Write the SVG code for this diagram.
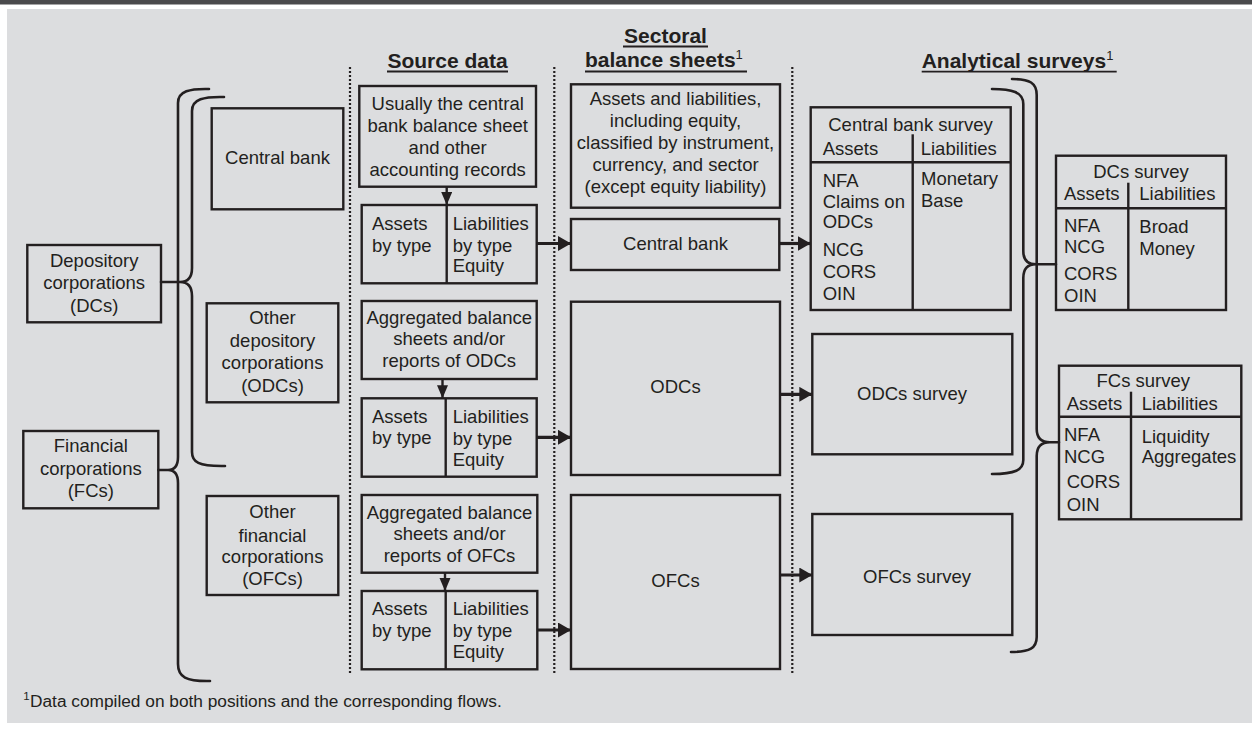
<svg xmlns="http://www.w3.org/2000/svg" width="1252" height="734" viewBox="0 0 1252 734">
<defs>
<style>
.t{font-family:"Liberation Sans",Arial,Helvetica,sans-serif;font-size:18.5px;fill:#231f20}
.c{text-anchor:middle}
.h{font-family:"Liberation Sans",Arial,Helvetica,sans-serif;font-size:21px;font-weight:bold;fill:#231f20}
.sup{font-size:13px;font-weight:normal}
.box{fill:none;stroke:#231f20;stroke-width:2.4}
.ln{stroke:#231f20;stroke-width:2.4;fill:none}
.ul{stroke:#231f20;stroke-width:1.8}
.br{fill:none;stroke:#231f20;stroke-width:2.6;stroke-linecap:round}
.dot{stroke:#231f20;stroke-width:2.2;stroke-dasharray:2 2}
.arr{stroke:#231f20;stroke-width:3.2;fill:none}
.arrs{stroke:#231f20;stroke-width:2.4;fill:none}
</style>
<marker id="ah" markerUnits="userSpaceOnUse" markerWidth="14" markerHeight="16" refX="13" refY="7.5" orient="auto"><path d="M0,0 L13,7.5 L0,15 z" fill="#231f20"/></marker>
<marker id="ahs" markerUnits="userSpaceOnUse" markerWidth="14" markerHeight="12" refX="13" refY="5.5" orient="auto"><path d="M0,0 L13,5.5 L0,11 z" fill="#231f20"/></marker>
</defs>

<rect x="0" y="0" width="1252" height="734" fill="#ffffff"/>
<rect x="0" y="0" width="1252" height="4.5" fill="#4a4a4c"/>
<rect x="7" y="9" width="1245" height="714" fill="#dcdddf"/>

<!-- headers -->
<g id="headers">
<text class="h" x="447.5" y="68" text-anchor="middle">Source data</text>
<line class="ul" x1="387" y1="71.5" x2="508" y2="71.5"/>
<text class="h" x="665.5" y="42.7" text-anchor="middle">Sectoral</text>
<line class="ul" x1="623" y1="46.5" x2="708" y2="46.5"/>
<text class="h" x="585" y="66.7">balance sheets<tspan class="sup" dy="-8">1</tspan></text>
<line class="ul" x1="585" y1="71.5" x2="747" y2="71.5"/>
<text class="h" x="921.7" y="68.3">Analytical surveys<tspan class="sup" dy="-8">1</tspan></text>
<line class="ul" x1="921.7" y1="71.7" x2="1116.7" y2="71.7"/>
</g>

<!-- dotted separators -->
<g id="separators">
<line class="dot" x1="350" y1="67" x2="350" y2="673"/>
<line class="dot" x1="554.3" y1="67" x2="554.3" y2="673"/>
<line class="dot" x1="792.3" y1="67" x2="792.3" y2="673"/>
</g>

<!-- left hierarchy -->
<g id="dcs">
<rect class="box" x="27.3" y="245" width="133.7" height="77.3"/>
<text class="t c" x="94.2" y="266.7">Depository</text>
<text class="t c" x="94.2" y="289.3">corporations</text>
<text class="t c" x="94.2" y="311.7">(DCs)</text>
</g>
<g id="fcs">
<rect class="box" x="23.3" y="431" width="135" height="77.3"/>
<text class="t c" x="90.8" y="451.7">Financial</text>
<text class="t c" x="90.8" y="475">corporations</text>
<text class="t c" x="90.8" y="496.7">(FCs)</text>
</g>
<g id="centralbank">
<rect class="box" x="211.7" y="108.3" width="131.6" height="101"/>
<text class="t c" x="277.5" y="163.5">Central bank</text>
</g>
<g id="odcs">
<rect class="box" x="206.7" y="303.3" width="131.6" height="99"/>
<text class="t c" x="272.5" y="324">Other</text>
<text class="t c" x="272.5" y="346.7">depository</text>
<text class="t c" x="272.5" y="369.3">corporations</text>
<text class="t c" x="272.5" y="391.7">(ODCs)</text>
</g>
<g id="ofcs">
<rect class="box" x="206.7" y="496" width="131.6" height="99"/>
<text class="t c" x="272.5" y="518.3">Other</text>
<text class="t c" x="272.5" y="541.7">financial</text>
<text class="t c" x="272.5" y="563.3">corporations</text>
<text class="t c" x="272.5" y="585">(OFCs)</text>
</g>

<!-- source data -->
<g id="src-cb">
<rect class="box" x="359.3" y="86" width="176.7" height="100.7"/>
<text class="t c" x="447.7" y="110">Usually the central</text>
<text class="t c" x="447.7" y="131.7">bank balance sheet</text>
<text class="t c" x="447.7" y="154">and other</text>
<text class="t c" x="447.7" y="175.7">accounting records</text>
</g>
<g id="src-cb-al">
<rect class="box" x="361.7" y="205" width="175" height="78.3"/>
<line class="ln" x1="446.7" y1="205" x2="446.7" y2="283.3"/>
<text class="t" x="372" y="230">Assets</text>
<text class="t" x="372" y="251.5">by type</text>
<text class="t" x="452.7" y="230">Liabilities</text>
<text class="t" x="452.7" y="251.5">by type</text>
<text class="t" x="452.7" y="272">Equity</text>
</g>
<g id="src-odc">
<rect class="box" x="361.7" y="301" width="175" height="78"/>
<text class="t c" x="449.2" y="324">Aggregated balance</text>
<text class="t c" x="449.2" y="345">sheets and/or</text>
<text class="t c" x="449.2" y="366.7">reports of ODCs</text>
</g>
<g id="src-odc-al">
<rect class="box" x="361.7" y="398.3" width="175" height="78.4"/>
<line class="ln" x1="445.7" y1="398.3" x2="445.7" y2="476.7"/>
<text class="t" x="372" y="422.7">Assets</text>
<text class="t" x="372" y="444.3">by type</text>
<text class="t" x="452.7" y="422.7">Liabilities</text>
<text class="t" x="452.7" y="444.5">by type</text>
<text class="t" x="452.7" y="466">Equity</text>
</g>
<g id="src-ofc">
<rect class="box" x="361.7" y="495" width="175.6" height="77.7"/>
<text class="t c" x="449.5" y="519.3">Aggregated balance</text>
<text class="t c" x="449.5" y="540">sheets and/or</text>
<text class="t c" x="449.5" y="561.7">reports of OFCs</text>
</g>
<g id="src-ofc-al">
<rect class="box" x="361.7" y="591" width="175.6" height="78.3"/>
<line class="ln" x1="445.7" y1="591" x2="445.7" y2="669.3"/>
<text class="t" x="372" y="615">Assets</text>
<text class="t" x="372" y="637">by type</text>
<text class="t" x="452.7" y="615">Liabilities</text>
<text class="t" x="452.7" y="636.7">by type</text>
<text class="t" x="452.7" y="658.3">Equity</text>
</g>

<!-- sectoral balance sheets -->
<g id="sec-desc">
<rect class="box" x="571" y="84.3" width="209" height="123.4"/>
<text class="t c" x="675.5" y="105">Assets and liabilities,</text>
<text class="t c" x="675.5" y="126.7">including equity,</text>
<text class="t c" x="675.5" y="149">classified by instrument,</text>
<text class="t c" x="675.5" y="171">currency, and sector</text>
<text class="t c" x="675.5" y="193.3">(except equity liability)</text>
</g>
<g id="sec-cb">
<rect class="box" x="571" y="219" width="208.3" height="51"/>
<text class="t c" x="675.5" y="250">Central bank</text>
</g>
<g id="sec-odc">
<rect class="box" x="571" y="301.7" width="209" height="173.3"/>
<text class="t c" x="675.5" y="393.3">ODCs</text>
</g>
<g id="sec-ofc">
<rect class="box" x="571" y="495" width="209" height="174"/>
<text class="t c" x="675.5" y="587.3">OFCs</text>
</g>

<!-- analytical surveys -->
<g id="cb-survey">
<rect class="box" x="810.7" y="107.3" width="200" height="202.7"/>
<line class="ln" x1="810.7" y1="162.3" x2="1010.7" y2="162.3"/>
<line class="ln" x1="912.7" y1="134.3" x2="912.7" y2="310"/>
<text class="t c" x="910.5" y="131">Central bank survey</text>
<text class="t" x="822.7" y="155">Assets</text>
<text class="t" x="920.7" y="155">Liabilities</text>
<text class="t" x="822.7" y="186.7">NFA</text>
<text class="t" x="822.7" y="208.3">Claims on</text>
<text class="t" x="822.7" y="228.3">ODCs</text>
<text class="t" x="822.7" y="256">NCG</text>
<text class="t" x="822.7" y="278.3">CORS</text>
<text class="t" x="822.7" y="300">OIN</text>
<text class="t" x="921" y="185">Monetary</text>
<text class="t" x="921" y="206.7">Base</text>
</g>
<g id="dcs-survey">
<rect class="box" x="1056" y="155.7" width="170" height="154.3"/>
<line class="ln" x1="1056" y1="208.3" x2="1226" y2="208.3"/>
<line class="ln" x1="1128.3" y1="182.7" x2="1128.3" y2="310"/>
<text class="t c" x="1141" y="178.3">DCs survey</text>
<text class="t" x="1064" y="200">Assets</text>
<text class="t" x="1139.3" y="200">Liabilities</text>
<text class="t" x="1064" y="231.7">NFA</text>
<text class="t" x="1064" y="253">NCG</text>
<text class="t" x="1064" y="280">CORS</text>
<text class="t" x="1064" y="301.5">OIN</text>
<text class="t" x="1139.3" y="233.3">Broad</text>
<text class="t" x="1139.3" y="255">Money</text>
</g>
<g id="odcs-survey">
<rect class="box" x="812.3" y="334" width="200" height="120.3"/>
<text class="t c" x="912" y="400">ODCs survey</text>
</g>
<g id="fcs-survey">
<rect class="box" x="1059" y="365.7" width="182.3" height="153.6"/>
<line class="ln" x1="1059" y1="416.7" x2="1241.3" y2="416.7"/>
<line class="ln" x1="1131" y1="391.7" x2="1131" y2="519.3"/>
<text class="t c" x="1143.3" y="386.7">FCs survey</text>
<text class="t" x="1066.7" y="410">Assets</text>
<text class="t" x="1141.7" y="410">Liabilities</text>
<text class="t" x="1064" y="441.3">NFA</text>
<text class="t" x="1064" y="462.7">NCG</text>
<text class="t" x="1066.7" y="488.3">CORS</text>
<text class="t" x="1066.7" y="510.7">OIN</text>
<text class="t" x="1141.7" y="442.7">Liquidity</text>
<text class="t" x="1141.7" y="463.3">Aggregates</text>
</g>
<g id="ofcs-survey">
<rect class="box" x="812.3" y="514" width="200" height="121"/>
<text class="t c" x="917" y="582.7">OFCs survey</text>
</g>

<!-- connectors -->
<g id="connectors">
<!-- braces -->
<path class="br" d="M209,89 C190,88.5 178,91 178,103 L178,457 Q178,470 168,470 L158.3,470 M168,470 Q178,470 178,483 L178,664 C178,677 186,681.5 210,681"/>
<path class="br" d="M224,97 C204,96.5 192,99 192,111 L192,268 Q192,282 180,282 L161,282 M180,282 Q192,282 192,296 L192,452 C192,462 198,466.5 225,466"/>
<path class="br" d="M992,89 C1012,89 1023.3,92 1023.3,104 L1023.3,251 Q1023.3,264.3 1036,264.3 L1056,264.3 M1036,264.3 Q1023.3,264.3 1023.3,278 L1023.3,460 C1023.3,470 1015,474 992,474"/>
<path class="br" d="M1012,79 C1030,79 1036.7,83 1036.7,95 L1036.7,429 Q1036.7,442.3 1050,442.3 L1059,442.3 M1050,442.3 Q1036.7,442.3 1036.7,456 L1036.7,637 C1036.7,648 1030,652 1011,652"/>
<!-- down arrows -->
<line class="arrs" x1="446.7" y1="186.7" x2="446.7" y2="205" marker-end="url(#ahs)"/>
<line class="arrs" x1="442.5" y1="379" x2="442.5" y2="398.3" marker-end="url(#ahs)"/>
<line class="arrs" x1="445" y1="572.7" x2="445" y2="591" marker-end="url(#ahs)"/>
<!-- right arrows -->
<line class="arr" x1="536.7" y1="243.5" x2="571" y2="243.5" marker-end="url(#ah)"/>
<line class="arr" x1="779.3" y1="243.5" x2="810.7" y2="243.5" marker-end="url(#ah)"/>
<line class="arr" x1="536.7" y1="437.3" x2="571" y2="437.3" marker-end="url(#ah)"/>
<line class="arr" x1="780" y1="394.3" x2="812.3" y2="394.3" marker-end="url(#ah)"/>
<line class="arr" x1="537.3" y1="630" x2="571" y2="630" marker-end="url(#ah)"/>
<line class="arr" x1="780" y1="575" x2="812.3" y2="575" marker-end="url(#ah)"/>
</g>

<!-- footnote -->
<g id="footnote">
<text class="t" x="23.3" y="706.7" style="font-size:17.3px"><tspan style="font-size:11.5px" dy="-7">1</tspan><tspan x="30" dy="7">Data compiled on both positions and the corresponding flows.</tspan></text>
</g>
</svg>
